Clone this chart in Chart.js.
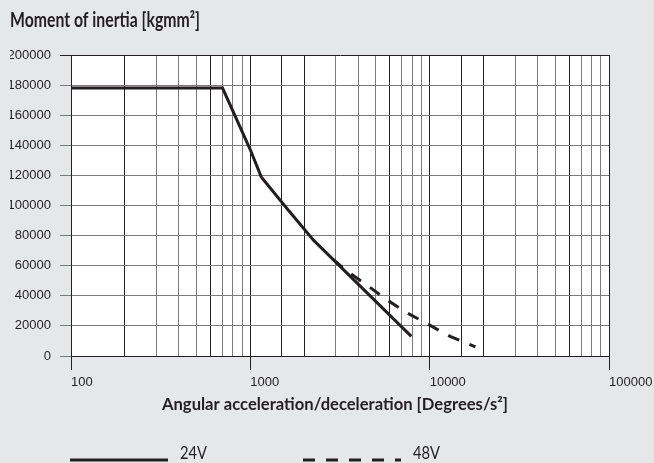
<!DOCTYPE html>
<html>
<head>
<meta charset="utf-8">
<script src="https://cdn.jsdelivr.net/npm/chart.js@4.4.1/dist/chart.umd.min.js"></script>
<style>
  html, body { margin: 0; padding: 0; background: #e6e7e9; }
  #wrap { width: 654px; height: 463px; }
</style>
</head>
<body>
<div id="wrap"><canvas id="inertia-chart" width="654" height="463"></canvas></div>
<script>
// values (x = Degrees/s², y = kgmm²)
const accel24 = [100, 700, 1000, 1150, 1600, 2250, 2900, 7900];
const inertia24 = [178000, 178000, 137000, 119000, 98000, 77000, 64000, 13000];
const accel48 = [2900, 3500, 4500, 5800, 7500, 10000, 13000, 18000];
const inertia48 = [64000, 56000, 46800, 37200, 28600, 20500, 13000, 6000];
const seriesLabels = ['24V', '48V'];
const yTickValues = [0, 20000, 40000, 60000, 80000, 100000, 120000, 140000, 160000, 180000, 200000];
const xTickLabels = ['100', '1000', '10000', '100000'];
const chartTitle = 'Moment of inertia [kgmm²]';
const xAxisTitle = 'Angular acceleration/deceleration [Degrees/s²]';

const ink = '#231f20';
const gridGrey = '#7a7a7a';
const headFont = "Lato, 'Open Sans', sans-serif";
const tickFont = "'Liberation Sans', sans-serif";

const toPoints = (xs, ys) => xs.map((x, i) => ({ x: x, y: ys[i] }));

// the original uses a condensed face, so squeeze the text to its width
function squeezeText(ctx, text, x, y, font, width, align) {
    ctx.save();
    ctx.font = font;
    const k = width / ctx.measureText(text).width;
    ctx.translate(align === 'center' ? x - width / 2 : x, y);
    ctx.scale(k, 1);
    ctx.textAlign = 'left';
    ctx.textBaseline = 'alphabetic';
    ctx.fillStyle = ink;
    ctx.fillText(text, 0, 0);
    ctx.restore();
}

// grey page, white plot area
const paperBackground = {
    id: 'paperBackground',
    beforeDraw(chart) {
        const { ctx, chartArea } = chart;
        ctx.save();
        ctx.fillStyle = '#e6e7e9';
        ctx.fillRect(0, 0, chart.width, chart.height);
        ctx.fillStyle = '#ffffff';
        ctx.fillRect(chartArea.left, chartArea.top, chartArea.right - chartArea.left, chartArea.bottom - chartArea.top);
        ctx.restore();
    }
};

// titles + legend (long line sample, then label)
const headings = {
    id: 'headings',
    afterDraw(chart) {
        const { ctx, chartArea } = chart;
        squeezeText(ctx, chartTitle, 10, 27, 'bold 21px ' + headFont, 190, 'left');
        squeezeText(ctx, xAxisTitle, (chartArea.left + chartArea.right) / 2 - 5, 410, 'bold 17px ' + headFont, 346, 'center');

        const starts = [70, 303];
        const y = 460;
        ctx.save();
        chart.data.datasets.forEach((ds, i) => {
            const x = starts[i];
            ctx.strokeStyle = ds.borderColor;
            ctx.lineWidth = ds.borderWidth;
            ctx.setLineDash(ds.borderDash || []);
            ctx.beginPath();
            ctx.moveTo(x, y);
            ctx.lineTo(x + 98, y);
            ctx.stroke();
            ctx.setLineDash([]);
            squeezeText(ctx, ds.label, x + 110, 459, '18px ' + headFont, 27, 'left');
        });
        ctx.restore();
    }
};

const isDark = v => {
    const lead = Math.round(v / Math.pow(10, Math.floor(Math.log10(v))));
    return lead === 1 || lead === 2 || lead === 6;
};

const inertiaCtx = document.getElementById('inertia-chart').getContext('2d');

const inertiaChart = new Chart(inertiaCtx, {
    type: 'line',
    data: {
        datasets: [{
            label: seriesLabels[0],
            data: toPoints(accel24, inertia24),
            borderColor: ink,
            borderWidth: 3,
            pointRadius: 0,
            fill: false
        }, {
            label: seriesLabels[1],
            data: toPoints(accel48, inertia48),
            borderColor: ink,
            borderWidth: 3,
            borderDash: [12, 11],
            pointRadius: 0,
            fill: false
        }]
    },
    options: {
        responsive: false,
        animation: false,
        events: [],
        layout: { padding: { left: 10, right: 45, top: 55, bottom: 40 } },
        plugins: {
            legend: { display: false },
            tooltip: { enabled: false },
            title: { display: false }
        },
        scales: {
            x: {
                type: 'logarithmic',
                min: 100,
                max: 100000,
                afterFit: scale => {
                    scale.height = 67;
                    scale.paddingLeft = 0;
                    scale.paddingRight = 0;
                },
                grid: {
                    color: c => (c.tick && isDark(c.tick.value)) ? ink : gridGrey,
                    tickColor: c => (c.tick && xTickLabels.includes(String(c.tick.value))) ? ink : 'rgba(0,0,0,0)',
                    tickLength: 14
                },
                border: { color: ink, width: 1 },
                ticks: {
                    autoSkip: false,
                    maxRotation: 0,
                    align: 'start',
                    padding: 5,
                    color: ink,
                    font: { family: tickFont, size: 13 },
                    callback: v => xTickLabels.includes(String(v)) ? String(v) : ''
                }
            },
            y: {
                min: 0,
                max: 200000,
                afterFit: scale => { scale.width = 61; },
                afterBuildTicks: scale => { scale.ticks = yTickValues.map(v => ({ value: v })); },
                grid: {
                    color: c => (c.tick && c.tick.value === 200000) ? ink : gridGrey,
                    tickLength: 11
                },
                border: { color: ink, width: 1 },
                ticks: {
                    padding: 9,
                    color: ink,
                    font: { family: tickFont, size: 13 },
                    callback: v => String(v)
                }
            }
        }
    },
    plugins: [paperBackground, headings]
});
</script>
</body>
</html>
